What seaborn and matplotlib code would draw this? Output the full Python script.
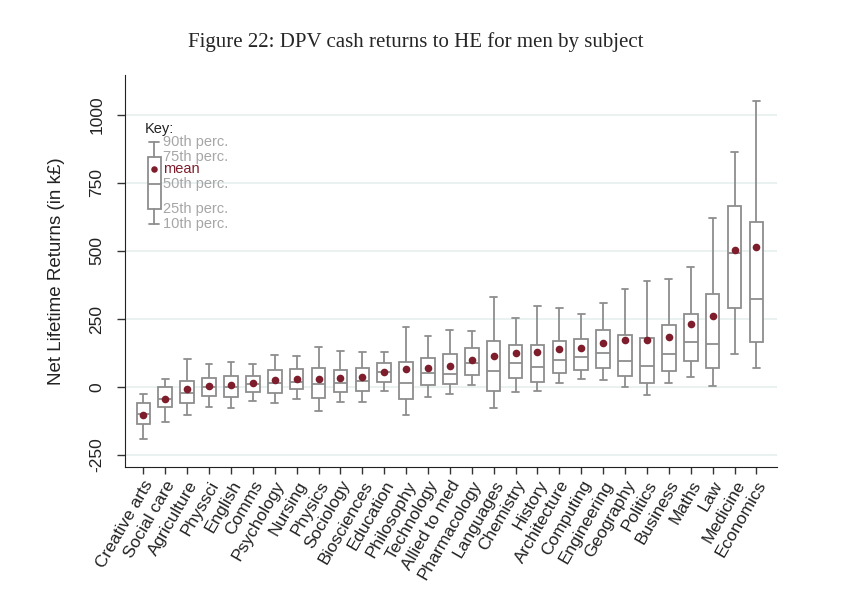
import pandas as pd
import matplotlib
matplotlib.use("Agg")
import matplotlib.pyplot as plt
import seaborn as sns

# valores (k£)
subjects = ["Creative arts", "Social care", "Agriculture", "Physsci", "English", "Comms",
            "Psychology", "Nursing", "Physics", "Sociology", "Biosciences", "Education",
            "Philosophy", "Technology", "Allied to med", "Pharmacology", "Languages",
            "Chemistry", "History", "Architecture", "Computing", "Engineering", "Geography",
            "Politics", "Business", "Maths", "Law", "Medicine", "Economics"]
p10 = [-192, -129, -104, -72, -77, -50, -60, -43, -89, -56, -56, -13, -103, -37, -27, 7,
       -78, -18, -16, 14, 28, 26, 0, -28, 14, 37, 4, 121, 70]
p25 = [-137, -74, -60, -34, -36, -17, -22, -8, -39, -20, -13, 18, -45, 6, 10, 45,
       -13, 33, 20, 53, 63, 69, 42, 16, 59, 97, 69, 290, 165]
p50 = [-100, -44, -23, 0, -1, 10, 16, 18, 12, 13, 22, 55, 15, 50, 49, 87,
       58, 88, 74, 99, 111, 125, 96, 76, 121, 167, 157, 492, 324]
p75 = [-60, -1, 21, 33, 42, 42, 61, 66, 69, 61, 69, 88, 91, 105, 120, 145,
       168, 156, 156, 170, 178, 211, 191, 179, 228, 268, 342, 667, 607]
p90 = [-27, 28, 103, 83, 93, 86, 118, 114, 147, 132, 128, 128, 219, 186, 210, 205,
       331, 254, 297, 292, 267, 308, 360, 389, 398, 440, 621, 864, 1050]
means = [-103, -44, -8, 3, 6, 16, 26, 28, 31, 34, 38, 55, 66, 69, 78, 100,
         114, 125, 128, 140, 142, 161, 172, 174, 185, 230, 262, 504, 515]

# caja de la leyenda ("Key")
key_vals = [600, 654, 746, 846, 900]
key_mean = 800
key_labels = ["10th perc.", "25th perc.", "50th perc.", "75th perc.", "90th perc."]

yticks = [-250, 0, 250, 500, 750, 1000]

sns.set_style("ticks")
plt.rcParams['font.family'] = ['Liberation Sans', 'DejaVu Sans']
plt.rcParams['axes.unicode_minus'] = False

gris = "#8e8e8e"
rojo = "#7e1e2c"

# tabla larga: 5 percentiles por materia -> con whis=(0,100) la caja sale exacta
filas = []
for i, s in enumerate(subjects):
    for v in (p10[i], p25[i], p50[i], p75[i], p90[i]):
        filas.append({"subject": s, "value": v})
datos = pd.DataFrame(filas)
medias = pd.DataFrame({"subject": subjects, "mean": means})

fig = plt.figure(figsize=(8.53, 6), dpi=100)
ax = fig.add_axes([0.1465, 0.2217, 0.7644, 0.6533])

sns.boxplot(data=datos, x="subject", y="value", order=subjects, whis=(0, 100),
            width=0.62, color="white", linecolor=gris, linewidth=1.3,
            showfliers=False, ax=ax)
sns.stripplot(data=medias, x="subject", y="mean", order=subjects, jitter=False,
              color=rojo, size=5.5, linewidth=0, ax=ax, zorder=5)

# key
stats = [{"whislo": key_vals[0], "q1": key_vals[1], "med": key_vals[2],
          "q3": key_vals[3], "whishi": key_vals[4], "fliers": []}]
ax.bxp(stats, positions=[0.5], widths=0.62, showfliers=False, manage_ticks=False,
       patch_artist=True,
       boxprops=dict(facecolor="white", edgecolor=gris, linewidth=1.3),
       medianprops=dict(color=gris, linewidth=1.3),
       whiskerprops=dict(color=gris, linewidth=1.3),
       capprops=dict(color=gris, linewidth=1.3), capwidths=0.45)
ax.scatter([0.5], [key_mean], s=22, color=rojo, zorder=5, linewidths=0)
ax.text(0.08, 948, "Key:", fontsize=10.5, color="#222222", va="center", ha="left")
orden = [key_vals[4], key_vals[3], key_mean, key_vals[2], key_vals[1], key_vals[0]]
textos = [key_labels[4], key_labels[3], "mean", key_labels[2], key_labels[1], key_labels[0]]
for v, t in zip(orden, textos):
    c = rojo if t == "mean" else "#a6a6a6"
    ax.text(0.9, v, t, fontsize=10.5, color=c, va="center", ha="left")

ax.set_xlim(-0.84, 28.94)
ax.set_ylim(-294, 1147)
ax.set_yticks(yticks)
ax.yaxis.grid(True, color="#e3eded", linewidth=1.1)
ax.set_axisbelow(True)

ax.set_xlabel("")
ax.set_ylabel("Net Lifetime Returns (in k£)", fontsize=13.5, color="#222222")
ax.yaxis.set_label_coords(-0.092, 0.5)

ax.tick_params(axis="y", length=6, width=1, color="#333333", labelsize=12.5,
               labelcolor="#222222", pad=9)
for lab in ax.get_yticklabels():
    lab.set_rotation(90)
    lab.set_va("center")
ax.tick_params(axis="x", length=5, width=1, color="#333333", labelsize=12.5,
               labelcolor="#222222", pad=3)
ax.set_xticks(range(len(subjects)))
ax.set_xticklabels(subjects, rotation=60, ha="right", rotation_mode="anchor")

sns.despine(ax=ax)
ax.spines["left"].set_color("#222222")
ax.spines["bottom"].set_color("#222222")

fig.text(0.487, 0.93, "Figure 22: DPV cash returns to HE for men by subject",
         ha="center", va="center", fontsize=15, family=["Liberation Serif", "DejaVu Serif"])

fig.savefig("out.png", dpi=100, facecolor="white")
